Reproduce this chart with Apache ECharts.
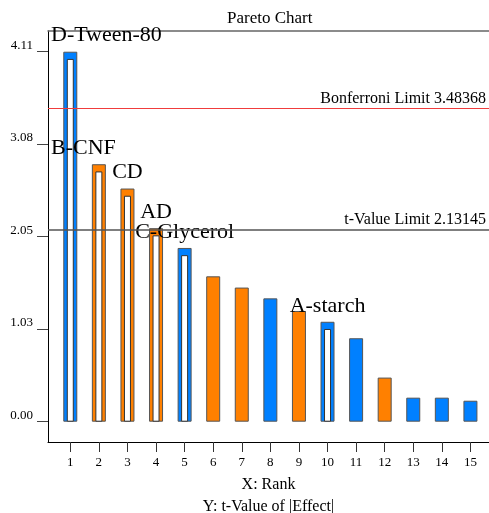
<!DOCTYPE html>
<html>
<head>
<meta charset="utf-8">
<script src="https://cdn.jsdelivr.net/npm/echarts@6/dist/echarts.min.js"></script>
<style>
html, body { margin: 0; padding: 0; background: #fff; }
#main { width: 489px; height: 513px; }
</style>
</head>
<body>
<div id="main"></div>
<script>
// 数据定义
var ranks = [1, 2, 3, 4, 5, 6, 7, 8, 9, 10, 11, 12, 13, 14, 15];
var tValues = [4.11, 2.86, 2.59, 2.15, 1.93, 1.615, 1.49, 1.37, 1.23, 1.11, 0.927, 0.49, 0.267, 0.267, 0.233];
var effectSigns = ['+', '-', '-', '-', '+', '-', '-', '+', '-', '+', '+', '-', '+', '+', '+'];
var effectNames = ['D-Tween-80', 'B-CNF', 'CD', 'AD', 'C-Glycerol', '', '', '', '', 'A-starch', '', '', '', '', ''];
var yTickValues = [0, 1.0275, 2.055, 3.0825, 4.11];
var yTickLabels = ['0.00', '1.03', '2.05', '3.08', '4.11'];
var bonferroniLimit = 3.48368;
var tValueLimit = 2.13145;

var FONT = 'Liberation Serif';
var BLUE = '#0080ff', ORANGE = '#ff8000';
var xMin = 0.22, xMax = 15.65, yMin = -0.2255, yMax = 4.34;
// 左对齐的标签 (贴近左轴)
var leftLabels = { 'D-Tween-80': true, 'B-CNF': true };

var mainData = ranks.map(function (r, i) {
    var item = {
        value: [r, tValues[i]],
        itemStyle: { color: effectSigns[i] === '+' ? BLUE : ORANGE }
    };
    if (effectNames[i]) {
        item.name = effectNames[i];
        item.label = { show: true, formatter: effectNames[i] };
    }
    return item;
});
// 空心柱: 内部白色矩形
var innerBase = [], innerWhite = [];
ranks.forEach(function (r, i) {
    if (effectNames[i]) {
        innerBase.push([r, 0.04]);
        innerWhite.push([r, tValues[i] - 0.08]);
    }
});

var myChart = echarts.init(document.getElementById('main'));
var option = {
    animation: false,
    textStyle: { fontFamily: FONT, color: '#000' },
    title: {
        text: 'Pareto Chart',
        left: 227, top: 10, padding: 0,
        textStyle: { fontFamily: FONT, fontSize: 17, fontWeight: 'normal', color: '#000' }
    },
    grid: { left: 48, right: 0, top: 31, bottom: 71, containLabel: false, outerBoundsMode: 'none' },
    xAxis: [{
        type: 'value', min: xMin, max: xMax,
        name: 'X: Rank\nY: t-Value of |Effect|',
        nameLocation: 'middle', nameGap: 30,
        nameTextStyle: { fontFamily: FONT, fontSize: 16, color: '#000', lineHeight: 21.6 },
        axisLine: { show: true, onZero: false, lineStyle: { color: '#000', width: 1 } },
        axisTick: { show: true, length: 10, customValues: ranks, lineStyle: { color: '#333' } },
        axisLabel: { customValues: ranks, margin: 14, fontSize: 13, color: '#000', fontFamily: FONT },
        splitLine: { show: false }
    }, {
        type: 'value', min: xMin, max: xMax, position: 'top',
        axisLine: { show: true, onZero: false, lineStyle: { color: '#666', width: 1.5 } },
        axisTick: { show: false }, axisLabel: { show: false }, splitLine: { show: false }
    }],
    yAxis: [{
        type: 'value', min: yMin, max: yMax,
        axisLine: { show: true, onZero: false, lineStyle: { color: '#000', width: 1 } },
        axisTick: { show: true, length: 11, customValues: yTickValues, lineStyle: { color: '#444' } },
        axisLabel: {
            customValues: yTickValues, margin: 15, fontSize: 13, color: '#000', fontFamily: FONT,
            verticalAlign: 'bottom',
            formatter: function (v) {
                var k = yTickValues.indexOf(v);
                return k >= 0 ? yTickLabels[k] : '';
            }
        },
        splitLine: { show: false }
    }, {
        type: 'value', min: yMin, max: yMax, show: false
    }],
    series: [{
        type: 'bar',
        data: mainData,
        barWidth: 14,
        itemStyle: { borderColor: '#555', borderWidth: 1 },
        label: {
            show: false, position: 'top', distance: 5,
            fontFamily: FONT, fontSize: 22, color: '#000'
        },
        labelLayout: function (params) {
            if (leftLabels[params.text]) {
                return { dx: 51 - params.labelRect.x };
            }
            return {};
        },
        markLine: {
            silent: true, symbol: 'none',
            label: { fontFamily: FONT, fontSize: 16, color: '#000', position: 'insideEndTop', distance: [3, 2] },
            data: [{
                yAxis: bonferroniLimit,
                lineStyle: { color: '#f03c3c', width: 1, type: 'solid' },
                label: { formatter: 'Bonferroni Limit ' + bonferroniLimit }
            }, {
                yAxis: tValueLimit,
                lineStyle: { color: '#555', width: 1.5, type: 'solid' },
                label: { formatter: 't-Value Limit ' + tValueLimit }
            }]
        }
    }, {
        type: 'bar', xAxisIndex: 1, yAxisIndex: 1, stack: 'inner',
        data: innerBase, barWidth: 7,
        itemStyle: { color: 'transparent' }, silent: true
    }, {
        type: 'bar', xAxisIndex: 1, yAxisIndex: 1, stack: 'inner',
        data: innerWhite, barWidth: 7,
        itemStyle: { color: '#fff', borderColor: '#333', borderWidth: 1 }, silent: true
    }]
};
myChart.setOption(option);
</script>
</body>
</html>
